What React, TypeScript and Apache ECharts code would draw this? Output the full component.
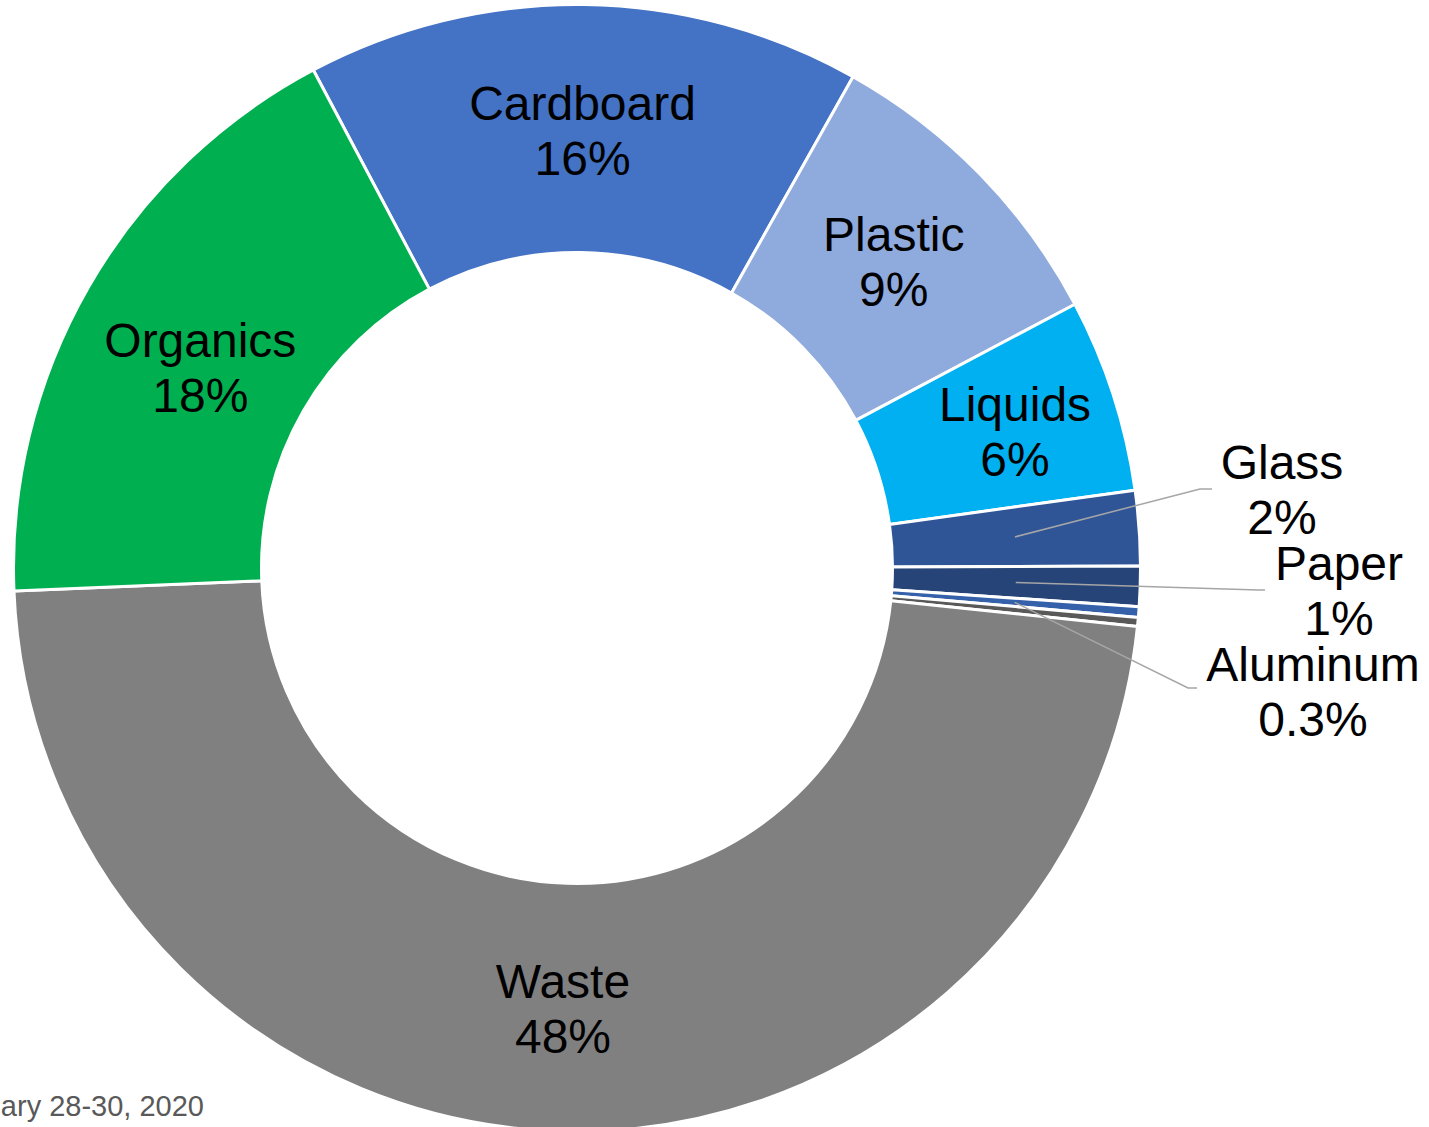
import React, { useEffect, useRef } from "react";
import * as echarts from "echarts";

const categories = ["Cardboard", "Plastic", "Liquids", "Glass", "Paper", "Aluminum", "Other", "Waste", "Organics"];
const values = [15.9, 9.1, 5.55, 2.15, 1.15, 0.3, 0.26, 47.7, 17.9];
const percentLabels = ["16%", "9%", "6%", "2%", "1%", "0.3%", "", "48%", "18%"];
const colors = ["#4472C4", "#8FAADC", "#00B0F0", "#2F5597", "#264478", "#3560AA", "#595959", "#808080", "#00B050"];
const footnote = "ary 28-30, 2020";

const CX = 577;
const CY = 568;
const R0 = 315.5;
const R1 = 563.5;
const START = 117.9;
const LINE_R = 439;
const FONT = "'Liberation Sans', Arial, Helvetica, sans-serif";

// label placement for the small slices (label centre, bend point, end point)
const outsideLayout: Record<number, { x: number; y: number; bend: number[]; end: number[] }> = {
  3: { x: 1282, y: 490, bend: [1200, 489], end: [1212, 489] },
  4: { x: 1339, y: 591, bend: [1258, 590], end: [1265, 590] },
  5: { x: 1313, y: 692, bend: [1188, 688], end: [1197, 688] },
};
const insideNudge: Record<number, number[]> = {
  0: [0, 5],
  1: [0, 3],
  2: [17, 0],
  7: [0, -1],
  8: [7, 20],
};

const total = values.reduce((a, b) => a + b, 0);
function midAngle(i: number) {
  let before = 0;
  for (let k = 0; k < i; k++) before += values[k];
  return START - (360 * (before + values[i] / 2)) / total;
}

export default function App() {
  const ref = useRef<HTMLDivElement>(null);
  useEffect(() => {
    if (!ref.current) return;
    const chart = echarts.init(ref.current, null, { renderer: "svg" });
    const data = categories.map((name, i) => {
      const item: any = { name, value: values[i], itemStyle: { color: colors[i] } };
      if (!percentLabels[i]) item.label = { show: false };
      return item;
    });
    const leaderLines = Object.keys(outsideLayout).map((key) => {
      const i = Number(key);
      const o = outsideLayout[i];
      const a = (midAngle(i) * Math.PI) / 180;
      const start = [CX + LINE_R * Math.cos(a), CY - LINE_R * Math.sin(a)];
      return {
        type: "polyline",
        z: 100,
        silent: true,
        shape: { points: [start, o.bend, o.end] },
        style: { stroke: "#A6A6A6", lineWidth: 1.5, fill: null },
      };
    });
    chart.setOption({
      animation: false,
      backgroundColor: "#ffffff",
      series: [
        {
          type: "pie",
          center: [CX, CY],
          radius: [R0, R1],
          startAngle: START,
          clockwise: true,
          avoidLabelOverlap: false,
          itemStyle: { borderColor: "#ffffff", borderWidth: 3 },
          label: {
            show: true,
            position: "inside",
            formatter: (p: any) => `${p.name}\n${percentLabels[p.dataIndex]}`,
            fontSize: 48,
            lineHeight: 55,
            color: "#000000",
            fontFamily: FONT,
            textBorderWidth: 0,
            align: "center",
          },
          labelLine: { show: false },
          emphasis: { disabled: true },
          labelLayout: (params: any) => {
            const i = params.dataIndex;
            const o = outsideLayout[i];
            if (o) {
              return { x: o.x, y: o.y, align: "center", verticalAlign: "middle" };
            }
            const n = insideNudge[i];
            if (n) return { dx: n[0], dy: n[1] };
            return {};
          },
          data,
        },
      ],
      graphic: [
        ...leaderLines,
        {
          type: "text",
          x: 204,
          y: 1106,
          style: {
            text: footnote,
            fontSize: 29,
            fontFamily: FONT,
            fill: "#595959",
            align: "right",
            verticalAlign: "middle",
          },
        },
      ],
    });
    return () => chart.dispose();
  }, []);
  return (
    <div
      ref={ref}
      style={{ position: "absolute", left: 0, top: 0, width: 1429, height: 1127 }}
    />
  );
}
